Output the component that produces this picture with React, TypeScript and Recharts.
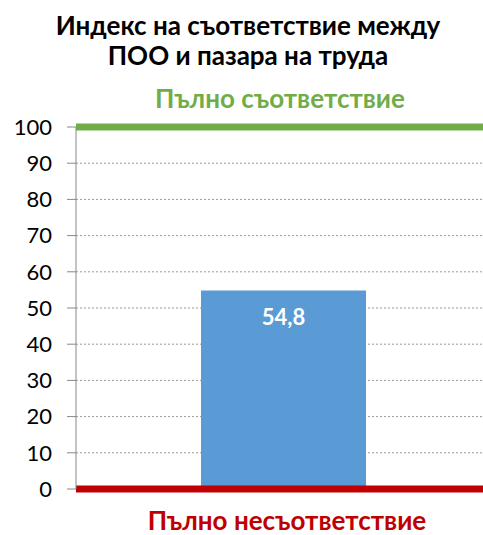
import React from "react";
import { BarChart, Bar, XAxis, YAxis, CartesianGrid, ReferenceLine, LabelList } from "recharts";

const categories = ["Индекс"];
const indexValues = [54.8];
const yTicks = [0, 10, 20, 30, 40, 50, 60, 70, 80, 90, 100];
const fullMatch = 100;
const noMatch = 0;

const data = categories.map((name, i) => ({ name, value: indexValues[i] }));

const font = "Lato, 'Open Sans', sans-serif";

const textBox = (top: number, center: number, color: string, lh = 30): React.CSSProperties => ({
  position: "absolute",
  top,
  left: 0,
  width: center * 2,
  textAlign: "center",
  fontWeight: 700,
  fontSize: 26,
  lineHeight: `${lh}px`,
  whiteSpace: "nowrap",
  color,
});

export default function App() {
  return (
    <div style={{ position: "absolute", left: 0, top: 0, width: 483, height: 535, background: "#fff", fontFamily: font }}>
      <div style={textBox(10, 248, "#000")}>
        Индекс на съответствие между
        <br />
        ПОО и пазара на труда
      </div>
      <div style={textBox(83, 280, "#70AD47")}>Пълно съответствие</div>
      <div style={textBox(507, 287, "#C00000", 26)}>Пълно несъответствие</div>
      <div style={{ position: "absolute", left: 0, top: 0 }}>
        <BarChart width={483} height={535} data={data} margin={{ top: 127, right: 0, bottom: 46, left: 0 }}>
          <CartesianGrid vertical={false} stroke="#999" strokeDasharray="2 2" />
          <XAxis dataKey="name" hide padding={{ left: 8, right: 0 }} />
          <YAxis
            width={76}
            domain={[0, 100]}
            ticks={yTicks}
            interval={0}
            tickSize={9}
            tickMargin={15}
            stroke="#888"
            tick={{ fill: "#000", fontSize: 22, fontFamily: font }}
          />
          <Bar dataKey="value" fill="#5B9BD5" barSize={165} isAnimationActive={false}>
            <LabelList
              dataKey="value"
              position="insideTop"
              offset={19}
              formatter={(v: number) => String(v).replace(".", ",")}
              style={{ fill: "#fff", fontWeight: 700, fontSize: 22, fontFamily: font }}
            />
          </Bar>
          <ReferenceLine y={fullMatch} stroke="#70AD47" strokeWidth={7} />
          <ReferenceLine y={noMatch} stroke="#C00000" strokeWidth={7} />
        </BarChart>
      </div>
    </div>
  );
}
